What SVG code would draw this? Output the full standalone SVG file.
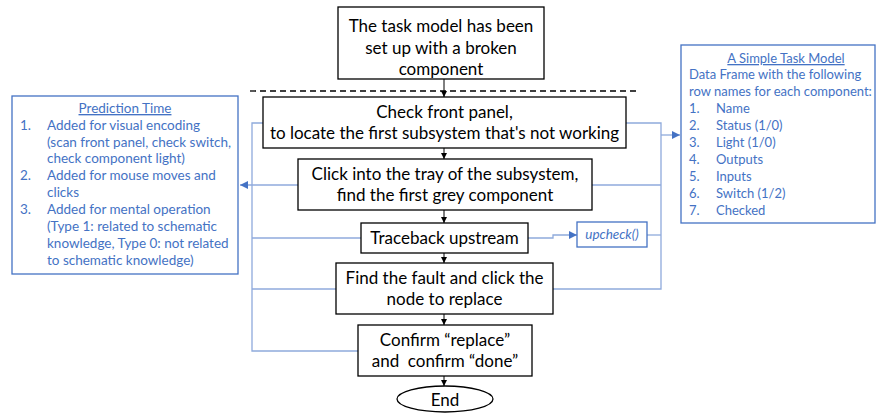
<svg xmlns="http://www.w3.org/2000/svg" width="877" height="414" viewBox="0 0 877 414">
  <defs>
    <marker id="arrBlack" viewBox="0 0 10 10" refX="10" refY="5" markerWidth="6" markerHeight="6" orient="auto" markerUnits="userSpaceOnUse">
      <path d="M0,0 L10,5 L0,10 z" fill="#000"/>
    </marker>
    <marker id="arrBlue" viewBox="0 0 10 10" refX="10" refY="5" markerWidth="8" markerHeight="8" orient="auto" markerUnits="userSpaceOnUse">
      <path d="M0,0 L10,5 L0,10 z" fill="#4472C4"/>
    </marker>
    <style>
      .box { fill: #fff; stroke: #000; stroke-width: 1.3; }
      .info { fill: #fff; stroke: #4472C4; stroke-width: 1.3; }
      .t { font-family: Lato, "Liberation Sans", sans-serif; font-size: 17px; fill: #000; text-anchor: middle; white-space: pre; }
      .b { font-family: Lato, "Liberation Sans", sans-serif; font-size: 13.5px; fill: #4472C4; }
      .r { font-size: 13px; }
      .u { text-decoration: underline; text-anchor: middle; }
      .flow { stroke: #000; stroke-width: 1; fill: none; }
      .link { stroke: #8FAADC; stroke-width: 1.3; fill: none; }
      .dash { stroke: #000; stroke-width: 1.3; stroke-dasharray: 6 4; }
    </style>
  </defs>

  <!-- connectors -->
  <g id="connectors">
    <line class="dash" x1="250" y1="91" x2="640" y2="91"/>
    <line class="flow" x1="444" y1="79" x2="444" y2="97" marker-end="url(#arrBlack)"/>
    <line class="flow" x1="444" y1="148" x2="444" y2="159" marker-end="url(#arrBlack)"/>
    <line class="flow" x1="444" y1="210" x2="444" y2="223" marker-end="url(#arrBlack)"/>
    <line class="flow" x1="444" y1="253" x2="444" y2="263" marker-end="url(#arrBlack)"/>
    <line class="flow" x1="444" y1="314" x2="444" y2="325" marker-end="url(#arrBlack)"/>
    <line class="flow" x1="444" y1="376" x2="444" y2="386" marker-end="url(#arrBlack)"/>

    <!-- left bus to Prediction Time -->
    <path class="link" d="M263,123 H252 V351 H358"/>
    <path class="link" d="M252,238 H361"/>
    <path class="link" d="M252,289 H336"/>
    <path class="link" d="M298,185 H240" marker-end="url(#arrBlue)"/>

    <!-- right bus to Task Model -->
    <path class="link" d="M626,123 H661 V289 H553"/>
    <path class="link" d="M592,185 H661"/>
    <path class="link" d="M647,235 H661"/>
    <path class="link" d="M661,135 H680" marker-end="url(#arrBlue)"/>

    <!-- Traceback to upcheck() -->
    <path class="link" d="M528,238 H553 V235 H577" marker-end="url(#arrBlue)"/>
  </g>

  <!-- flow nodes -->
  <g id="start">
    <rect class="box" x="338" y="7" width="206" height="72"/>
    <text class="t" x="441" y="32">The task model has been</text>
    <text class="t" x="441" y="54">set up with a broken</text>
    <text class="t" x="441" y="75">component</text>
  </g>

  <g id="check-panel">
    <rect class="box" x="263" y="97" width="363" height="51"/>
    <text class="t" x="444.5" y="118">Check front panel,</text>
    <text class="t" x="444.5" y="139">to locate the first subsystem that's not working</text>
  </g>

  <g id="click-tray">
    <rect class="box" x="298" y="159" width="294" height="51"/>
    <text class="t" x="445" y="180">Click into the tray of the subsystem,</text>
    <text class="t" x="445" y="201">find the first grey component</text>
  </g>

  <g id="traceback">
    <rect class="box" x="361" y="223" width="167" height="30"/>
    <text class="t" x="444.5" y="244">Traceback upstream</text>
  </g>

  <g id="find-fault">
    <rect class="box" x="336" y="263" width="217" height="51"/>
    <text class="t" x="444.5" y="284">Find the fault and click the</text>
    <text class="t" x="444.5" y="305">node to replace</text>
  </g>

  <g id="confirm">
    <rect class="box" x="358" y="325" width="174" height="51"/>
    <text class="t" x="445" y="346">Confirm “replace”</text>
    <text class="t" x="445" y="367" xml:space="preserve">and  confirm “done”</text>
  </g>

  <g id="end">
    <ellipse class="box" cx="445" cy="399" rx="48" ry="13"/>
    <text class="t" x="445" y="406">End</text>
  </g>

  <g id="upcheck">
    <rect class="info" x="577" y="222" width="70" height="25"/>
    <text class="b" x="612" y="239" font-size="12" font-style="italic" text-anchor="middle">upcheck()</text>
  </g>

  <!-- side panels -->
  <g id="prediction-time">
    <rect class="info" x="12" y="96" width="226" height="178"/>
    <text class="b u" x="125" y="113">Prediction Time</text>
    <text class="b" x="20" y="130">1.</text>
    <text class="b" x="47" y="130">Added for visual encoding</text>
    <text class="b" x="47" y="147">(scan front panel, check switch,</text>
    <text class="b" x="47" y="163">check component light)</text>
    <text class="b" x="20" y="180">2.</text>
    <text class="b" x="47" y="180">Added for mouse moves and</text>
    <text class="b" x="47" y="197">clicks</text>
    <text class="b" x="20" y="214">3.</text>
    <text class="b" x="47" y="214">Added for mental operation</text>
    <text class="b" x="47" y="231">(Type 1: related to schematic</text>
    <text class="b" x="47" y="248">knowledge, Type 0: not related</text>
    <text class="b" x="47" y="265">to schematic knowledge)</text>
  </g>

  <g id="task-model">
    <rect class="info" x="681" y="45" width="194" height="178"/>
    <text class="b r u" x="786" y="63">A Simple Task Model</text>
    <text class="b r" x="689" y="79">Data Frame with the following</text>
    <text class="b r" x="689" y="96">row names for each component:</text>
    <text class="b r" x="689" y="113">1.</text>
    <text class="b r" x="716" y="113">Name</text>
    <text class="b r" x="689" y="130">2.</text>
    <text class="b r" x="716" y="130">Status (1/0)</text>
    <text class="b r" x="689" y="147">3.</text>
    <text class="b r" x="716" y="147">Light (1/0)</text>
    <text class="b r" x="689" y="164">4.</text>
    <text class="b r" x="716" y="164">Outputs</text>
    <text class="b r" x="689" y="181">5.</text>
    <text class="b r" x="716" y="181">Inputs</text>
    <text class="b r" x="689" y="198">6.</text>
    <text class="b r" x="716" y="198">Switch (1/2)</text>
    <text class="b r" x="689" y="215">7.</text>
    <text class="b r" x="716" y="215">Checked</text>
  </g>
</svg>
